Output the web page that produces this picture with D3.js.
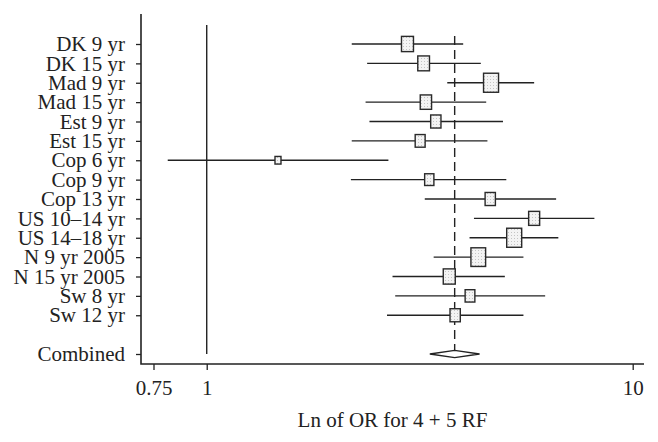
<!DOCTYPE html>
<html>
<head>
<meta charset="utf-8">
<script src="https://cdn.jsdelivr.net/npm/d3@7"></script>
<style>
body { margin: 0; background: #fff; }
text { font-family: "Liberation Serif", "Times New Roman", serif; fill: #222; }
</style>
</head>
<body>
<svg></svg>
<script>
var width = 658;
var height = 442;

var studies = ['DK 9 yr', 'DK 15 yr', 'Mad 9 yr', 'Mad 15 yr', 'Est 9 yr', 'Est 15 yr',
	'Cop 6 yr', 'Cop 9 yr', 'Cop 13 yr', 'US 10\u201314 yr', 'US 14\u201318 yr',
	'N 9 yr 2005', 'N 15 yr 2005', 'Sw 8 yr', 'Sw 12 yr'];
var orValues = [2.96, 3.23, 4.65, 3.27, 3.45, 3.17, 1.47, 3.33, 4.63, 5.87, 5.27, 4.34, 3.71, 4.15, 3.83];
var ciLower = [2.19, 2.38, 3.67, 2.36, 2.41, 2.19, 0.81, 2.18, 3.25, 4.24, 4.14, 3.41, 2.73, 2.77, 2.65];
var ciUpper = [4.00, 4.40, 5.87, 4.53, 4.96, 4.56, 2.67, 5.05, 6.61, 8.13, 6.69, 5.54, 5.01, 6.23, 5.54];
var weights = [6.4, 6.1, 10, 5.7, 4.7, 4.4, 1.6, 3.8, 4.7, 5.4, 10, 9.6, 6.4, 4.2, 4.7];

var combinedLabel = 'Combined';
var combined = { or: 3.82, lo: 3.34, hi: 4.37 };

var xTicks = [0.75, 1, 10];
var xTitle = 'Ln of OR for 4 + 5 RF';

var rows = studies.map(function(s, i) {
	return { label: s, row: i + 1, or: orValues[i], lo: ciLower[i], hi: ciUpper[i], w: weights[i] };
});
var combinedRow = studies.length + 2;

var svg = d3.select('svg')
	.attr('width', width)
	.attr('height', height);

var defs = svg.append('defs');
var pat = defs.append('pattern')
	.attr('id', 'stipple')
	.attr('patternUnits', 'userSpaceOnUse')
	.attr('width', 3)
	.attr('height', 3);
pat.append('rect').attr('width', 3).attr('height', 3).attr('fill', '#f3f3f3');
pat.append('rect').attr('x', 1).attr('y', 1).attr('width', 1).attr('height', 1).attr('fill', '#c4c4c4');

var x = d3.scaleLog()
	.domain([0.75, 10])
	.range([153.5, 632.7]);

var y = d3.scaleLinear()
	.domain([1, combinedRow])
	.range([44, 354]);

var size = d3.scaleSqrt()
	.domain([0, 10])
	.range([0, 15]);

var plotLeft = 141, plotRight = 644, plotTop = 14, plotBottom = 364;

// y axis
var labelFor = {};
rows.forEach(function(d) { labelFor[d.row] = d.label; });
labelFor[combinedRow] = combinedLabel;

var yAxis = d3.axisLeft(y)
	.tickValues(rows.map(function(d) { return d.row; }).concat([combinedRow]))
	.tickFormat(function(v) { return labelFor[v]; })
	.tickSize(5)
	.tickPadding(11);

var gy = svg.append('g')
	.attr('transform', 'translate(' + plotLeft + ',0)')
	.call(yAxis);
gy.select('.domain').remove();
gy.selectAll('.tick line').attr('stroke', '#222').attr('stroke-width', 1.3);
gy.selectAll('.tick text').style('font-size', '21px').attr('fill', '#222');

// x axis
var xAxis = d3.axisBottom(x)
	.tickValues(xTicks)
	.tickFormat(function(v) { return String(v); })
	.tickSize(6)
	.tickPadding(10);

var gx = svg.append('g')
	.attr('transform', 'translate(0,' + plotBottom + ')')
	.call(xAxis);
gx.select('.domain').remove();
gx.selectAll('.tick line').attr('stroke', '#222').attr('stroke-width', 1.3);
gx.selectAll('.tick text').style('font-size', '21px').attr('fill', '#222');

// axis frame lines
svg.append('path')
	.attr('d', 'M' + plotLeft + ',' + plotTop + 'V' + plotBottom + 'H' + plotRight)
	.attr('fill', 'none')
	.attr('stroke', '#222')
	.attr('stroke-width', 1.6);

// null line at OR = 1
svg.append('line')
	.attr('x1', x(1)).attr('x2', x(1))
	.attr('y1', 25).attr('y2', y(combinedRow))
	.attr('stroke', '#222')
	.attr('stroke-width', 1.4);

// dashed line at combined estimate
var diamondH = 3.6;
svg.append('line')
	.attr('x1', x(combined.or)).attr('x2', x(combined.or))
	.attr('y1', y(1) - 8).attr('y2', y(combinedRow) - diamondH)
	.attr('stroke', '#222')
	.attr('stroke-width', 1.4)
	.attr('stroke-dasharray', '9,5');

// confidence intervals
svg.append('g').selectAll('line')
	.data(rows)
	.enter().append('line')
	.attr('x1', function(d) { return x(d.lo); })
	.attr('x2', function(d) { return x(d.hi); })
	.attr('y1', function(d) { return y(d.row); })
	.attr('y2', function(d) { return y(d.row); })
	.attr('stroke', '#222')
	.attr('stroke-width', 1.3);

// boxes
svg.append('g').selectAll('rect')
	.data(rows)
	.enter().append('rect')
	.attr('x', function(d) { return x(d.or) - size(d.w) / 2; })
	.attr('y', function(d) { return y(d.row) - size(d.w) * 1.27 / 2; })
	.attr('width', function(d) { return size(d.w); })
	.attr('height', function(d) { return size(d.w) * 1.27; })
	.attr('fill', 'url(#stipple)')
	.attr('stroke', '#2a2a2a')
	.attr('stroke-width', 1.4);

// combined diamond
var cy = y(combinedRow);
svg.append('path')
	.attr('d', 'M' + x(combined.lo) + ',' + cy +
		'L' + x(combined.or) + ',' + (cy - diamondH) +
		'L' + x(combined.hi) + ',' + cy +
		'L' + x(combined.or) + ',' + (cy + diamondH) + 'Z')
	.attr('fill', '#fff')
	.attr('stroke', '#222')
	.attr('stroke-width', 1.4);

// x title
svg.append('text')
	.attr('x', 392.5)
	.attr('y', 427)
	.attr('text-anchor', 'middle')
	.style('font-size', '21px')
	.text(xTitle);
</script>
</body>
</html>
